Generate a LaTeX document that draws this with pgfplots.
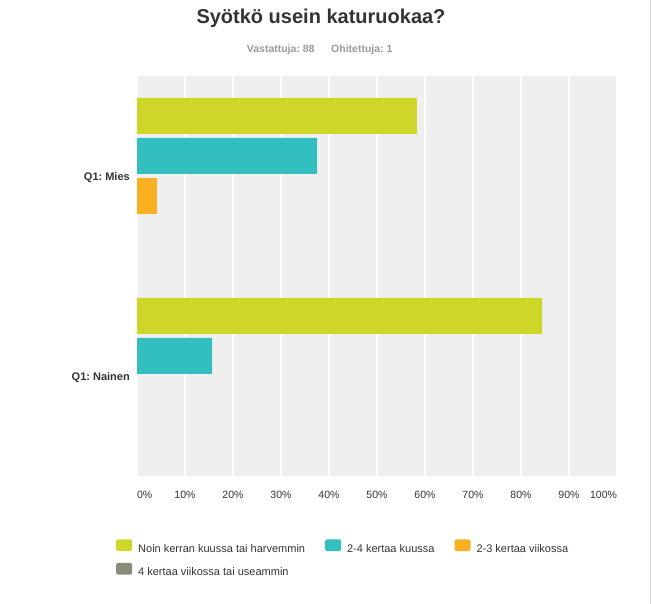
\documentclass[border=0pt]{standalone}
\usepackage{fontspec}
\setmainfont{Liberation Sans}
\usepackage{pgfplots}
\pgfplotsset{compat=1.18}
\definecolor{cgreen}{HTML}{CFD62A}
\definecolor{cteal}{HTML}{33BEC0}
\definecolor{corange}{HTML}{F9B122}
\definecolor{cgray}{HTML}{8A8B78}
\definecolor{bgc}{HTML}{EFEFEF}
\definecolor{bordc}{HTML}{DEDEDE}
\definecolor{txt}{HTML}{333333}
\definecolor{subc}{HTML}{9A9A9A}
\frenchspacing
\begin{document}
\begin{tikzpicture}[x=1pt,y=1pt]
\useasboundingbox (0,0) rectangle (651,604);
\draw[color=black!18, line width=1pt] (650.5,0) -- (650.5,604);
\node[anchor=base, inner sep=0, text=txt, font=\fontsize{20}{22}\selectfont\bfseries] at (321,580) {Syötkö usein katuruokaa?};
\node[anchor=base west, inner sep=0, text=subc, font=\fontsize{10.5}{12}\selectfont\bfseries] at (246.7,551) {Vastattuja: 88};
\node[anchor=base west, inner sep=0, text=subc, font=\fontsize{10.5}{12}\selectfont\bfseries] at (331,551) {Ohitettuja: 1};
\begin{axis}[
  at={(137pt,128pt)}, anchor=south west,
  scale only axis, width=480pt, height=400pt,
  xbar, bar width=36pt,
  xmin=0, xmax=100, ymin=-0.5, ymax=1.5,
  axis background/.style={fill=bgc},
  axis line style={draw=none},
  major tick length=0pt,
  xmajorgrids, grid style={white, line width=1.5pt},
  xtick={0,10,...,100},
  xticklabels={\makebox[0pt][l]{0\%},10\%,20\%,30\%,40\%,50\%,60\%,70\%,80\%,90\%,\makebox[0pt][r]{100\%}},
  xticklabel style={anchor=base, yshift=-23pt, inner sep=0pt, text=txt, font=\fontsize{10.5}{12}\selectfont},
  ytick={0,1},
  yticklabels={Q1: Nainen, Q1: Mies},
  yticklabel style={anchor=east, inner sep=0pt, xshift=-7pt, yshift=-2pt, text=txt, font=\fontsize{11}{13}\selectfont\bfseries},
  /pgf/number format/assume math mode=true,
  legend columns=3,
  legend cell align=left,
  legend image code/.code={\fill[#1, draw=none, rounded corners=1.5pt] (0pt,-2.2pt) rectangle (16pt,9.5pt);},
  legend style={at={(-0.04375,-0.158)}, anchor=north west, draw=none, fill=none, inner sep=0pt,
    font=\fontsize{11}{13}\selectfont, text=txt,
    nodes={inner sep=0pt, text height=9.5pt, text depth=2.5pt},
    row sep=8pt,
    /tikz/every odd column/.append style={column sep=6pt},
    /tikz/every even column/.append style={column sep=20pt}},
]
\addplot[fill=cgreen, draw=none, bar shift=60pt] coordinates {(58.33,1) (84.38,0)};
\addlegendentry{Noin kerran kuussa tai harvemmin}
\addplot[fill=cteal, draw=none, bar shift=20pt] coordinates {(37.50,1) (15.63,0)};
\addlegendentry{2-4 kertaa kuussa}
\addplot[fill=corange, draw=none, bar shift=-20pt] coordinates {(4.17,1)};
\addlegendentry{2-3 kertaa viikossa}
\addlegendimage{fill=cgray, draw=none}
\addlegendentry{4 kertaa viikossa tai useammin}
\draw[color=bordc, line width=1.2pt] ([xshift=-0.6pt]rel axis cs:0,0) -- ([xshift=-0.6pt]rel axis cs:0,1);
\draw[color=bordc, line width=2pt] ([yshift=-1pt]rel axis cs:0,0) -- ([yshift=-1pt]rel axis cs:1,0);
\end{axis}
\end{tikzpicture}
\end{document}
